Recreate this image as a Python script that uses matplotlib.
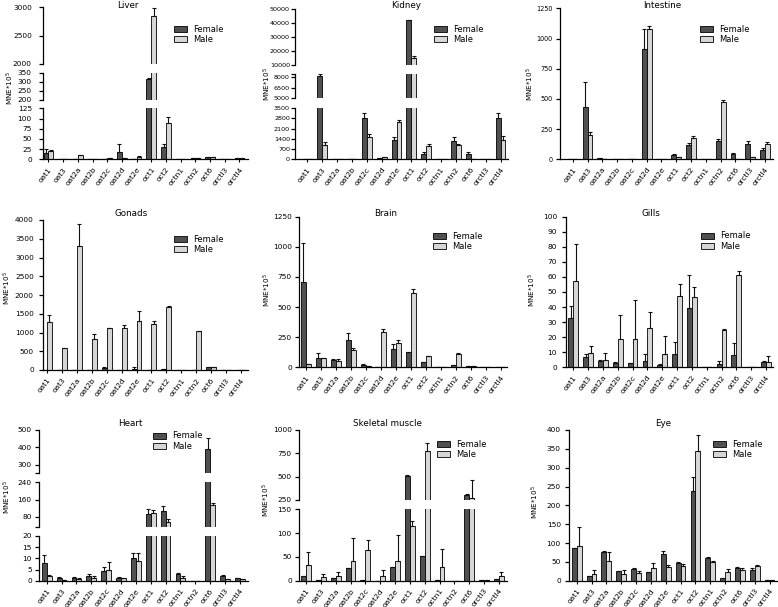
import numpy as np
import matplotlib
matplotlib.use('Agg')
import matplotlib.pyplot as plt
from matplotlib.patches import Patch

plt.rcParams['font.family'] = ['DejaVu Sans']

W, H = 778, 607

categories = ['oat1', 'oat3', 'oat2a', 'oat2b', 'oat2c', 'oat2d', 'oat2e',
              'oct1', 'oct2', 'octn1', 'octn2', 'oct6', 'orctl3', 'orctl4']
series_names = ['Female', 'Male']

# ---- data (mean, upper error) ----
liver_female = [16, 1, 1, 0, 0, 19, 0, 317, 31, 0, 2, 5, 1, 2]
liver_female_err = [9, 0, 0, 0, 0, 19, 0, 5, 6, 0, 0, 1, 0, 0]
liver_male = [20, 1, 10, 1, 3, 2, 6, 2850, 88, 0, 2, 5, 1, 2]
liver_male_err = [2, 0, 1, 0, 0, 0, 1, 140, 15, 0, 0, 1, 0, 0]

kidney_female = [0, 8150, 0, 0, 2850, 70, 1310, 42000, 360, 0, 1220, 340, 0, 2800]
kidney_female_err = [0, 300, 0, 0, 330, 0, 220, 300, 160, 0, 310, 130, 0, 380]
kidney_male = [0, 950, 45, 45, 1540, 135, 2530, 15000, 900, 0, 970, 45, 0, 1290]
kidney_male_err = [0, 200, 0, 0, 180, 0, 130, 1700, 110, 0, 45, 0, 0, 290]

intestine_female = [2, 430, 8, 3, 0, 910, 2, 35, 115, 0, 155, 45, 130, 80]
intestine_female_err = [0, 210, 0, 0, 0, 165, 0, 5, 20, 0, 15, 10, 25, 15]
intestine_male = [0, 200, 3, 0, 0, 1075, 0, 18, 180, 0, 475, 5, 15, 130]
intestine_male_err = [0, 30, 0, 0, 0, 30, 0, 4, 10, 0, 15, 0, 0, 10]

gonads_female = [0, 0, 0, 0, 60, 0, 40, 0, 20, 0, 0, 70, 0, 10]
gonads_female_err = [0, 0, 0, 0, 20, 0, 30, 0, 0, 0, 0, 10, 0, 0]
gonads_male = [1290, 580, 3300, 830, 1110, 1110, 1320, 1230, 1690, 0, 1040, 70, 0, 10]
gonads_male_err = [180, 10, 590, 120, 10, 80, 260, 70, 20, 0, 10, 10, 0, 0]

brain_female = [710, 75, 60, 225, 20, 5, 155, 125, 40, 0, 15, 10, 2, 5]
brain_female_err = [325, 40, 5, 60, 5, 0, 40, 5, 0, 0, 0, 0, 0, 0]
brain_male = [25, 75, 50, 140, 10, 295, 205, 615, 90, 0, 110, 8, 0, 5]
brain_male_err = [0, 0, 15, 18, 0, 20, 22, 35, 5, 0, 5, 0, 0, 0]

gills_female = [33, 7, 4.2, 3, 3, 4.3, 1.5, 8.5, 39.5, 0, 2.5, 8, 0.5, 3.2]
gills_female_err = [8, 1.6, 0.8, 0.8, 0, 4.2, 0.5, 8, 21.5, 0, 2, 8, 0, 0.8]
gills_male = [57, 9.5, 4.8, 19, 19, 26, 9, 47.5, 47, 0.5, 25, 61, 0.5, 3.5]
gills_male_err = [25, 4.5, 4.7, 16, 26, 11, 12, 7.5, 6, 0, 0.3, 3, 0, 4]

heart_female = [8, 1, 1.3, 2.3, 4.5, 1.3, 10, 94, 108, 2.8, 0, 392, 1.9, 1]
heart_female_err = [3.5, 0.5, 0.5, 0.5, 1.5, 0.2, 2.6, 25, 22, 0.7, 0, 62, 0.6, 0.2]
heart_male = [2, 0.3, 0.8, 1.3, 5, 1.3, 9, 97, 57, 1.3, 0, 134, 0.8, 0.6]
heart_male_err = [0.5, 0, 0.5, 0.7, 3.5, 0, 3.2, 14, 14, 0.9, 0, 11, 0, 0.2]

muscle_female = [10, 2, 6, 27, 2, 0, 29, 510, 52, 2, 0, 305, 1, 3]
muscle_female_err = [0, 0, 0, 0, 0, 0, 0, 8, 0, 0, 0, 8, 0, 0]
muscle_male = [32, 7, 10, 41, 64, 10, 41, 114, 775, 29, 0, 272, 1, 10]
muscle_male_err = [28, 7, 8, 48, 21, 12, 56, 12, 90, 38, 0, 196, 0, 9]

eye_female = [88, 12, 76, 25, 30, 23, 72, 48, 237, 61, 7, 35, 29, 2]
eye_female_err = [0, 0, 4, 0, 3, 0, 7, 1, 37, 3, 0, 1, 5, 0]
eye_male = [92, 18, 53, 17, 21, 33, 36, 40, 343, 49, 24, 28, 38, 2]
eye_male_err = [51, 10, 24, 11, 4, 13, 6, 5, 43, 2, 6, 7, 4, 0]

# y-axis segments (value ranges and tick values) per panel, bottom segment first
liver_segments = [(0, 125, [0, 25, 50, 75, 100, 125]),
                  (200, 350, [200, 250, 300, 350]),
                  (2000, 3000, [2000, 2500, 3000])]
kidney_segments = [(0, 3500, [0, 700, 1400, 2100, 2800, 3500]),
                   (5000, 8500, [5000, 6500, 8000]),
                   (10000, 50000, [10000, 20000, 30000, 40000, 50000])]
intestine_segments = [(0, 1250, [0, 250, 500, 750, 1000, 1250])]
gonads_segments = [(0, 4000, [0, 500, 1000, 1500, 2000, 2500, 3000, 3500, 4000])]
brain_segments = [(0, 1250, [0, 250, 500, 750, 1000, 1250])]
gills_segments = [(0, 100, [0, 10, 20, 30, 40, 50, 60, 70, 80, 90, 100])]
heart_segments = [(0, 20, [0, 5, 10, 15, 20]),
                  (35, 240, [80, 160, 240]),
                  (250, 500, [300, 400, 500])]
muscle_segments = [(0, 150, [0, 50, 100, 150]),
                   (250, 1000, [250, 500, 750, 1000])]
eye_segments = [(0, 400, [0, 50, 100, 150, 200, 250, 300, 350, 400])]

FEM = '#505050'
MAL = '#d6d6d6'

fig = plt.figure(figsize=(W / 100, H / 100), dpi=100)

# layout (pixels): x0, x1, xlim, segment pixel spans (bottom first),
# title (x, y), legend (x, y), ylabel (x, y), y tick pad (pt), y tick font size
panels = [
    ('Liver', liver_female, liver_female_err, liver_male, liver_male_err, liver_segments,
     43, 248, (-0.37, 13.58), [(108.3, 159.3), (72.7, 100), (7.3, 64)],
     (128, 5), (174, 25), (10, 88), 5.0, 5.3),
    ('Kidney', kidney_female, kidney_female_err, kidney_male, kidney_male_err, kidney_segments,
     295, 508, (-0.83, 13.5), [(108, 159.3), (74, 98.3), (9.3, 65)],
     (406, 5), (434, 25), (267, 84), 0.6, 4.6),
    ('Intestine', intestine_female, intestine_female_err, intestine_male, intestine_male_err,
     intestine_segments, 560, 773, (-0.86, 13.54), [(8.3, 159.3)],
     (662, 5), (700, 24.5), (530, 84), 2.6, 4.7),
    ('Gonads', gonads_female, gonads_female_err, gonads_male, gonads_male_err, gonads_segments,
     43, 248, (-0.27, 13.47), [(220, 370)],
     (131, 214), (174, 235), (7, 288), 3.6, 5.3),
    ('Brain', brain_female, brain_female_err, brain_male, brain_male_err, brain_segments,
     299, 507, (-0.44, 13.43), [(216.7, 367.3)],
     (386, 213), (433, 232), (267, 290), 2.2, 5.3),
    ('Gills', gills_female, gills_female_err, gills_male, gills_male_err, gills_segments,
     566, 773, (-0.49, 13.47), [(216.7, 367.3)],
     (651, 213), (701, 231.5), (532, 290), 3.4, 5.3),
    ('Heart', heart_female, heart_female_err, heart_male, heart_male_err, heart_segments,
     39, 248, (-0.52, 13.55), [(536, 580.7), (482.3, 526.7), (430, 473.3)],
     (130, 424), (153, 431.5), (7, 497), 2.2, 5.3),
    ('Skeletal muscle', muscle_female, muscle_female_err, muscle_male, muscle_male_err,
     muscle_segments, 299, 507, (-0.47, 13.54), [(509.3, 580.7), (430, 500)],
     (387, 424), (437, 440), (266, 500), 2.2, 5.3),
    ('Eye', eye_female, eye_female_err, eye_male, eye_male_err, eye_segments,
     569, 777, (-0.52, 13.5), [(430, 580.7)],
     (663, 424), (713, 440), (535, 502), 2.9, 5.3),
]

XFS = 5.4
width = 0.33
x = np.arange(len(categories))
zeros = np.zeros(len(categories))
ekw = dict(elinewidth=0.8, capsize=1.3, capthick=0.8, ecolor='#111111')

for (title, F, Fe, M, Me, segs, x0, x1, xlim, pix, tpos, lpos, ypos, ypad, yfs) in panels:
    for i, ((lo, hi, ticks), (ptop, pbot)) in enumerate(zip(segs, pix)):
        ax = fig.add_axes([x0 / W, 1 - pbot / H, (x1 - x0) / W, (pbot - ptop) / H])
        ax.bar(x - width / 2, F, width, color=FEM, edgecolor='black', linewidth=0.6,
               yerr=[zeros, Fe], error_kw=ekw)
        ax.bar(x + width / 2, M, width, color=MAL, edgecolor='black', linewidth=0.6,
               yerr=[zeros, Me], error_kw=ekw)
        ax.set_xlim(*xlim)
        ax.set_ylim(lo, hi)
        tk = list(ticks)
        lab = [str(t) for t in ticks]
        if lo not in tk:
            tk.append(lo); lab.append('')
        if hi not in tk:
            tk.append(hi); lab.append('')
        ax.set_yticks(tk)
        ax.set_yticklabels(lab)
        for s in ('top', 'right'):
            ax.spines[s].set_visible(False)
        ax.spines['left'].set_linewidth(0.9)
        ax.spines['bottom'].set_linewidth(0.9)
        ax.tick_params(axis='y', direction='out', length=3, width=0.9, labelsize=yfs, pad=ypad)
        if i == 0:
            ax.set_xticks(x)
            ax.set_xticklabels(categories, rotation=52, ha='right', rotation_mode='anchor',
                               fontsize=XFS)
            ax.tick_params(axis='x', direction='out', length=2.5, width=0.8, pad=2.5)
        else:
            ax.spines['bottom'].set_visible(False)
            ax.set_xticks([])
        ax.patch.set_alpha(0)
    fig.text(tpos[0] / W, 1 - tpos[1] / H, title, ha='center', va='center', fontsize=6.3)
    fig.text(ypos[0] / W, 1 - ypos[1] / H, 'MNE*10$^5$', ha='center', va='center',
             rotation=90, fontsize=5.2)
    handles = [Patch(facecolor=FEM, edgecolor='black', linewidth=0.6),
               Patch(facecolor=MAL, edgecolor='black', linewidth=0.6)]
    fig.legend(handles, series_names, loc='upper left',
               bbox_to_anchor=(lpos[0] / W, 1 - lpos[1] / H), frameon=False,
               fontsize=6, handlelength=1.6, handleheight=0.7, handletextpad=0.7,
               labelspacing=0.15, borderpad=0, borderaxespad=0)

fig.savefig('out.png', dpi=100)
